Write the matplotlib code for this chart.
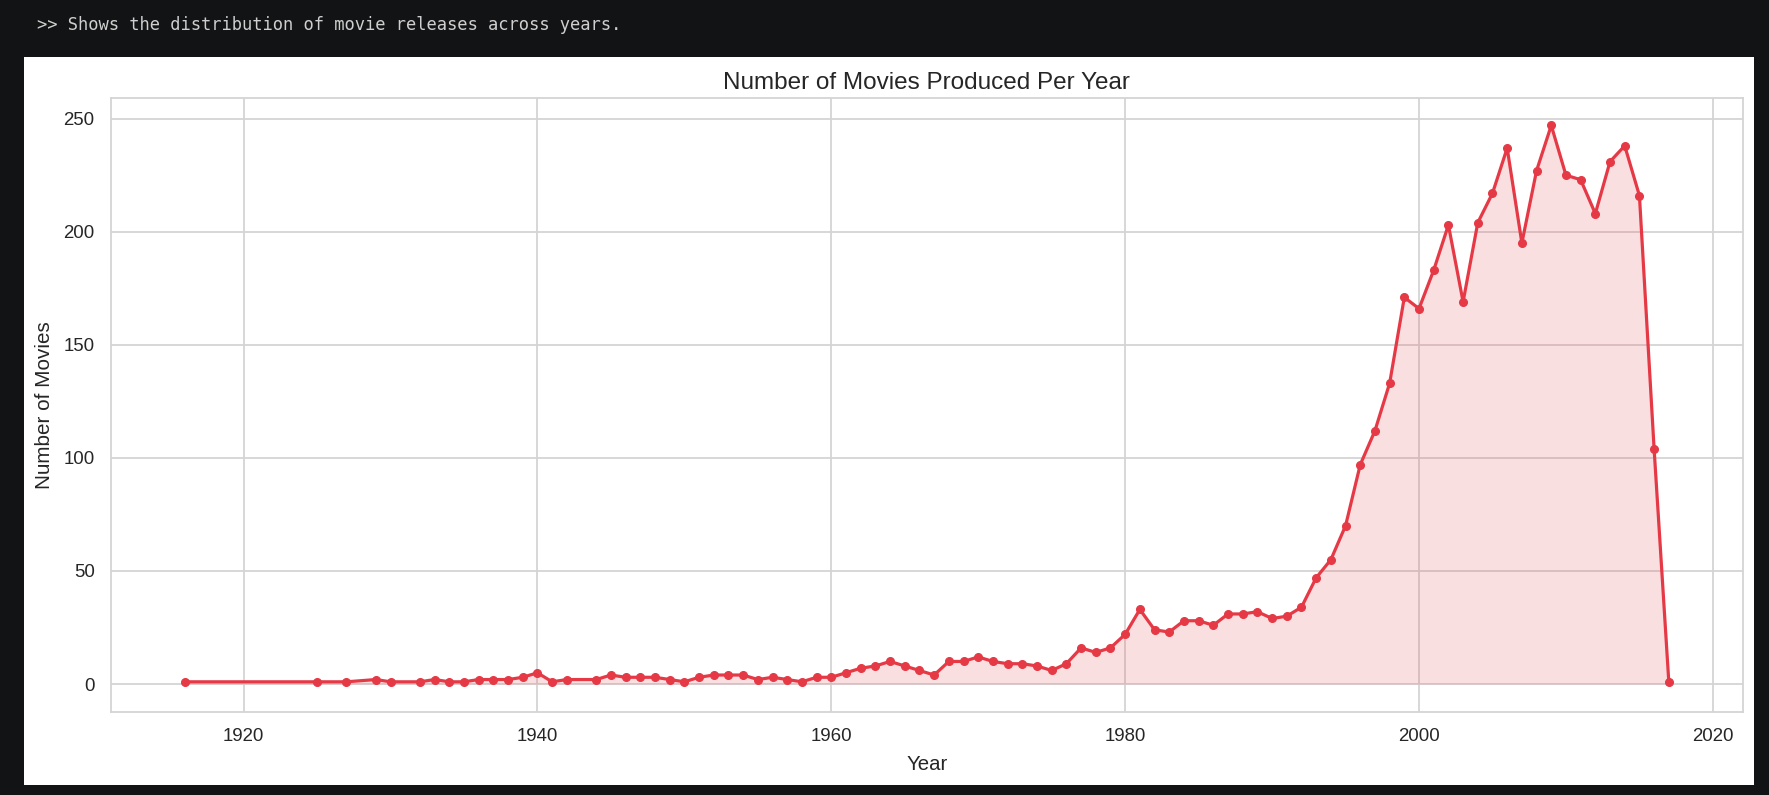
import matplotlib
matplotlib.use("Agg")
import matplotlib.pyplot as plt
from matplotlib.patches import Rectangle

# movies per release year
years = [1916, 1925, 1927, 1929, 1930, 1932, 1933, 1934, 1935, 1936, 1937, 1938,
         1939, 1940, 1941, 1942, 1944, 1945, 1946, 1947, 1948, 1949, 1950, 1951,
         1952, 1953, 1954, 1955, 1956, 1957, 1958, 1959, 1960, 1961, 1962, 1963,
         1964, 1965, 1966, 1967, 1968, 1969, 1970, 1971, 1972, 1973, 1974, 1975,
         1976, 1977, 1978, 1979, 1980, 1981, 1982, 1983, 1984, 1985, 1986, 1987,
         1988, 1989, 1990, 1991, 1992, 1993, 1994, 1995, 1996, 1997, 1998, 1999,
         2000, 2001, 2002, 2003, 2004, 2005, 2006, 2007, 2008, 2009, 2010, 2011,
         2012, 2013, 2014, 2015, 2016, 2017]
counts = [1, 1, 1, 2, 1, 1, 2, 1, 1, 2, 2, 2,
          3, 5, 1, 2, 2, 4, 3, 3, 3, 2, 1, 3,
          4, 4, 4, 2, 3, 2, 1, 3, 3, 5, 7, 8,
          10, 8, 6, 4, 10, 10, 12, 10, 9, 9, 8, 6,
          9, 16, 14, 16, 22, 33, 24, 23, 28, 28, 26, 31,
          31, 32, 29, 30, 34, 47, 55, 70, 97, 112, 133, 171,
          166, 183, 203, 169, 204, 217, 237, 195, 227, 247, 225, 223,
          208, 231, 238, 216, 104, 1]

header = ">> Shows the distribution of movie releases across years."
title = "Number of Movies Produced Per Year"
xlabel = "Year"
ylabel = "Number of Movies"

red = "#e63946"
grid_c = "#d4d4d4"
text_c = "#262626"

plt.rcParams["font.family"] = ["Liberation Sans", "DejaVu Sans"]

fig = plt.figure(figsize=(17.69, 7.95), dpi=100, facecolor="#121314")
# white panel behind the chart
fig.patches.append(Rectangle((24 / 1769, 1 - 785 / 795), (1754 - 24) / 1769, (785 - 57) / 795,
                             transform=fig.transFigure, facecolor="white", edgecolor="none",
                             zorder=-10))
fig.text(37 / 1769, 1 - 25 / 795, header, family="DejaVu Sans Mono", fontsize=12.3,
         color="#cfcfcf", va="center", ha="left")

ax = fig.add_axes([110.6 / 1769, 1 - 712 / 795, (1743 - 110.6) / 1769, (712 - 97.5) / 795])
ax.set_facecolor("white")

ax.fill_between(years, counts, color=red, alpha=0.16, linewidth=0)
ax.plot(years, counts, color=red, lw=2.3, marker="o", markersize=5.5)

ax.set_title(title, fontsize=17.5, color=text_c, pad=6)
ax.set_xlabel(xlabel, fontsize=14.7, color=text_c, labelpad=7.5)
ax.set_ylabel(ylabel, fontsize=14.9, color=text_c, labelpad=7)

ax.set_xticks([1920, 1940, 1960, 1980, 2000, 2020])
ax.set_yticks([0, 50, 100, 150, 200, 250])
ax.tick_params(axis="both", length=0, pad=11.5, labelsize=13.4, labelcolor=text_c)

ax.grid(True, color=grid_c, linewidth=1.3)
ax.set_axisbelow(True)
for s in ax.spines.values():
    s.set_color(grid_c)
    s.set_linewidth(1.3)

fig.savefig("out.png", dpi=100, facecolor=fig.get_facecolor())
